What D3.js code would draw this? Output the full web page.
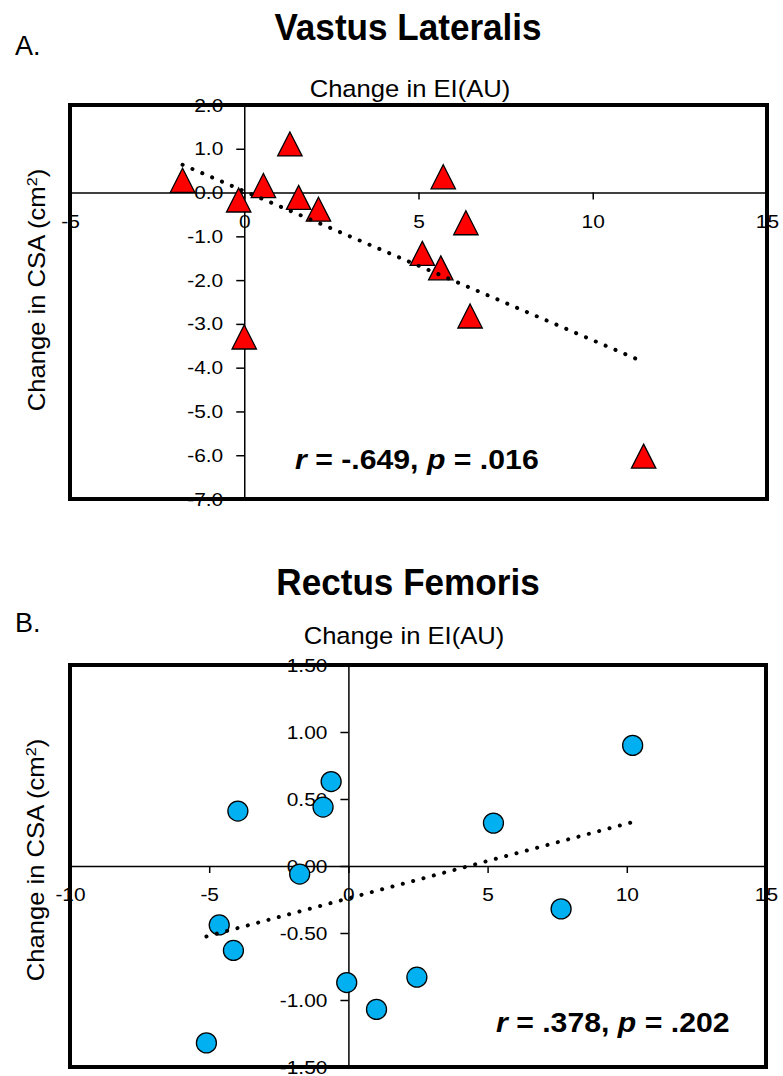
<!DOCTYPE html>
<meta charset="utf-8">
<style>
  body { margin: 0; background: #fff; }
  svg { display: block; }
</style>
<body>
<script src="https://cdnjs.cloudflare.com/ajax/libs/d3/7.8.5/d3.min.js"></script>
<script>
// Vastus Lateralis: change in EI vs change in CSA
var vlEI  = [-1.77, -0.16, 0.00, 0.55, 1.31, 1.56, 2.13, 5.11, 5.64, 5.71, 6.36, 6.48, 11.46];
var vlCSA = [0.28, -0.17, -3.30, 0.16, 1.11, -0.11, -0.38, -1.39, -1.72, 0.36, -0.69, -2.82, -6.02];

// Rectus Femoris
var rfEI  = [-5.10, -4.64, -4.13, -3.97, -1.75, -0.91, -0.62, -0.06, 1.01, 2.46, 5.21, 7.64, 10.21];
var rfCSA = [-1.32, -0.44, -0.63, 0.41, -0.06, 0.44, 0.63, -0.87, -1.07, -0.83, 0.32, -0.32, 0.90];

// tick values + labels
var vlXTicks = [-5, 0, 5, 10, 15];
var vlXLabels = ["-5", "0", "5", "10", "15"];
var vlYTicks = [2, 1, 0, -1, -2, -3, -4, -5, -6, -7];
var vlYLabels = ["2.0", "1.0", "0.0", "-1.0", "-2.0", "-3.0", "-4.0", "-5.0", "-6.0", "-7.0"];

var rfXTicks = [-10, -5, 0, 5, 10, 15];
var rfXLabels = ["-10", "-5", "0", "5", "10", "15"];
var rfYTicks = [1.5, 1, 0.5, 0, -0.5, -1, -1.5];
var rfYLabels = ["1.50", "1.00", "0.50", "0.00", "-0.50", "-1.00", "-1.50"];

var FONT = '"Liberation Sans", Arial, Helvetica, sans-serif';

var svg = d3.select("body")
            .append("svg")
            .attr("width", 783)
            .attr("height", 1076);

svg.append("rect").attr("width", 783).attr("height", 1076).attr("fill", "#fff");

// text with a horizontal stretch (the source font runs a bit wide)
function addText(parent, x, y, size, sx, opts) {
  opts = opts || {};
  var g = parent.append("g")
      .attr("transform", "translate(" + x + "," + y + ")" + (opts.rotate ? " rotate(" + opts.rotate + ")" : ""));
  return g.append("text")
      .attr("transform", "scale(" + sx + ",1)")
      .attr("text-anchor", opts.anchor || "start")
      .attr("font-family", FONT)
      .attr("font-size", size)
      .attr("font-weight", opts.weight || "normal")
      .attr("fill", "#000");
}

// least squares fit, returns [intercept, slope]
function fit(xs, ys) {
  var mx = d3.mean(xs), my = d3.mean(ys), sxy = 0, sxx = 0;
  xs.forEach(function(v, i) {
    sxy += (v - mx) * (ys[i] - my);
    sxx += (v - mx) * (v - mx);
  });
  var b = sxy / sxx;
  return [my - b * mx, b];
}

function panel(c) {
  var g = svg.append("g");
  var x = d3.scaleLinear().domain(c.xDomain).range(c.xRange);
  var y = d3.scaleLinear().domain(c.yDomain).range(c.yRange);
  var TSX = 1.1;

  var xAxis = d3.axisBottom(x)
      .tickValues(c.xTicks)
      .tickFormat(function(d, i) { return c.xLabels[i]; })
      .tickSize(7).tickPadding(15).tickSizeOuter(0);
  var yAxis = d3.axisLeft(y)
      .tickValues(c.yTicks)
      .tickFormat(function(d, i) { return c.yLabels[i]; })
      .tickSize(8).tickPadding(13).tickSizeOuter(0);

  var gx = g.append("g").attr("transform", "translate(0," + y(0) + ")").call(xAxis);
  var gy = g.append("g").attr("transform", "translate(" + x(0) + ",0)").call(yAxis);

  [gx, gy].forEach(function(a) {
    a.attr("font-size", 19).attr("font-family", FONT);
    a.select(".domain").attr("stroke", "#000").attr("stroke-width", 1.5);
    a.selectAll(".tick line").attr("stroke", "#000").attr("stroke-width", 1.5);
    a.selectAll(".tick text").attr("fill", "#000").each(function() {
      var t = d3.select(this);
      var tx = +t.attr("x") || 0;
      t.attr("x", tx / TSX).attr("transform", "scale(" + TSX + ",1)");
    });
  });

  // markers
  var pts = c.xs.map(function(v, i) { return [v, c.ys[i]]; });
  if (c.marker == "triangle") {
    g.append("g").selectAll("path")
      .data(pts)
      .enter()
      .append("path")
      .attr("transform", function(d) { return "translate(" + x(d[0]) + "," + y(d[1]) + ")"; })
      .attr("d", "M0,-12L12.2,12L-12.2,12Z")
      .attr("fill", c.color)
      .attr("stroke", "#000")
      .attr("stroke-width", 1.3)
      .attr("stroke-linejoin", "miter");
  } else {
    g.append("g").selectAll("circle")
      .data(pts)
      .enter()
      .append("circle")
      .attr("cx", function(d) { return x(d[0]); })
      .attr("cy", function(d) { return y(d[1]); })
      .attr("r", 10)
      .attr("fill", c.color)
      .attr("stroke", "#000")
      .attr("stroke-width", 1.3);
  }

  // dotted linear trendline over the data range
  var ab = fit(c.xs, c.ys);
  var ext = d3.extent(c.xs);
  g.append("path")
    .datum(ext.map(function(v) { return [v, ab[0] + ab[1] * v]; }))
    .attr("d", d3.line().x(function(d) { return x(d[0]); }).y(function(d) { return y(d[1]); }))
    .attr("fill", "none")
    .attr("stroke", "#000")
    .attr("stroke-width", 4)
    .attr("stroke-linecap", "round")
    .attr("stroke-dasharray", "0.1,10.6");

  // plot area frame
  g.append("rect")
    .attr("x", c.xRange[0])
    .attr("y", c.yRange[1])
    .attr("width", c.xRange[1] - c.xRange[0])
    .attr("height", c.yRange[0] - c.yRange[1])
    .attr("fill", "none")
    .attr("stroke", "#000")
    .attr("stroke-width", 4);

  // titles
  addText(g, 15, c.letterY, 27, 1).text(c.letter);
  addText(g, c.titleX, c.titleY, 36, 0.975, {anchor: "middle", weight: "bold"}).text(c.title);
  addText(g, c.xTitleX, c.xTitleY, 23.5, 1.09, {anchor: "middle"}).text("Change in EI(AU)");

  var yt = addText(g, c.yTitleX, c.yTitleY, 23.5, 1.09, {anchor: "middle", rotate: -90});
  yt.append("tspan").text("Change in CSA (cm");
  yt.append("tspan").attr("baseline-shift", "super").attr("font-size", 15).text("2");
  yt.append("tspan").text(")");

  // stats
  var st = addText(g, c.statX, c.statY, 27, 1.12, {weight: "bold"});
  st.append("tspan").attr("font-style", "italic").text("r");
  st.append("tspan").text(" = " + c.r + ", ");
  st.append("tspan").attr("font-style", "italic").text("p");
  st.append("tspan").text(" = " + c.p);
}

panel({
  xs: vlEI, ys: vlCSA,
  xDomain: [-5, 15], xRange: [70, 767],
  yDomain: [-7, 2], yRange: [499, 105],
  xTicks: vlXTicks, xLabels: vlXLabels,
  yTicks: vlYTicks, yLabels: vlYLabels,
  marker: "triangle", color: "#ff0000",
  letter: "A.", letterY: 55,
  title: "Vastus Lateralis", titleX: 408, titleY: 40,
  xTitleX: 410, xTitleY: 96.5,
  yTitleX: 45, yTitleY: 290,
  r: "-.649", p: ".016", statX: 295, statY: 469
});

panel({
  xs: rfEI, ys: rfCSA,
  xDomain: [-10, 15], xRange: [70, 766],
  yDomain: [-1.5, 1.5], yRange: [1067, 665],
  xTicks: rfXTicks, xLabels: rfXLabels,
  yTicks: rfYTicks, yLabels: rfYLabels,
  marker: "circle", color: "#00b0f0",
  letter: "B.", letterY: 632,
  title: "Rectus Femoris", titleX: 408, titleY: 595,
  xTitleX: 404, xTitleY: 643.5,
  yTitleX: 43.5, yTitleY: 860,
  r: ".378", p: ".202", statX: 496, statY: 1032
});
</script>
</body>
